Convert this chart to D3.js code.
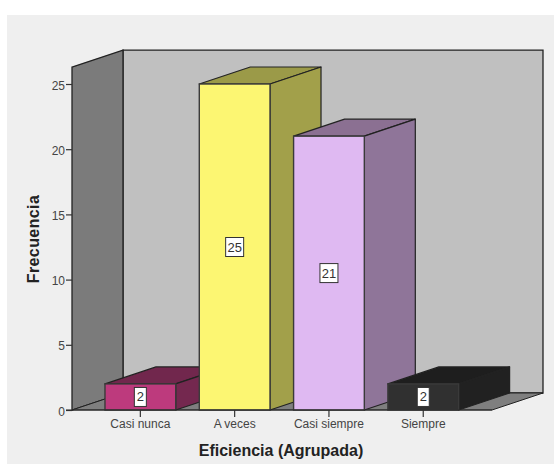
<!DOCTYPE html>
<html>
<head>
<meta charset="utf-8">
<script src="https://cdn.jsdelivr.net/npm/d3@7/dist/d3.min.js"></script>
<style>
html,body{margin:0;padding:0;background:#fff;}
svg{display:block;}
text{font-family:"Liberation Sans",Arial,sans-serif;}
</style>
</head>
<body>
<svg id="chart" width="554" height="464"></svg>
<script>
const categories = ["Casi nunca", "A veces", "Casi siempre", "Siempre"];
const frequencies = [2, 25, 21, 2];
const frontColors = ["#bd3a7d", "#fcf672", "#dfb9f2", "#303030"];
const topColors = ["#71274d", "#9b9a48", "#8b7092", "#1e1e1e"];
const sideColors = ["#74284f", "#a2a04a", "#8f7599", "#212121"];
const yTicks = [0, 5, 10, 15, 20, 25];

const svg = d3.select("#chart");
const depthX = 51, depthY = -17;
const wallTopValue = 26.3;

const y = d3.scaleLinear().domain([0, 25]).range([410, 84]);
const x = d3.scaleBand().domain(categories).range([93.2, 470.4]).paddingInner(0.25).paddingOuter(0.125);

const edge = "#3a3a3a";
const poly = pts => "M" + pts.map(p => p.join(",")).join("L") + "Z";

// Panel behind the whole chart
svg.append("rect").attr("x", 7).attr("y", 15).attr("width", 547).attr("height", 449).attr("fill", "#efefef");

// Box: back wall, left wall and floor
const boxLeft = 72, boxRight = 492, base = y(0), boxTop = y(wallTopValue);
svg.append("path").attr("d", poly([[boxLeft + depthX, boxTop + depthY], [boxRight + depthX, boxTop + depthY], [boxRight + depthX, base + depthY], [boxLeft + depthX, base + depthY]]))
  .attr("fill", "#c0c0c0").attr("stroke", "#222").attr("stroke-width", 1.3);
svg.append("path").attr("d", poly([[boxLeft, boxTop], [boxLeft + depthX, boxTop + depthY], [boxLeft + depthX, base + depthY], [boxLeft, base]]))
  .attr("fill", "#7b7b7b").attr("stroke", "#222").attr("stroke-width", 1.3);
svg.append("path").attr("d", poly([[boxLeft, base], [boxLeft + depthX, base + depthY], [boxRight + depthX, base + depthY], [boxRight, base]]))
  .attr("fill", "#7f7f7f").attr("stroke", "#222").attr("stroke-width", 1);

// Extruded bars
const bars = svg.selectAll("g.bar").data(categories.map((c, i) => ({c, v: frequencies[i], i}))).join("g").attr("class", "bar");
bars.append("path")
  .attr("d", d => { const x0 = x(d.c), x1 = x0 + x.bandwidth(), t = y(d.v);
    return poly([[x0, t], [x0 + depthX, t + depthY], [x1 + depthX, t + depthY], [x1, t]]); })
  .attr("fill", d => topColors[d.i]).attr("stroke", "#222").attr("stroke-width", 1.2).attr("stroke-linejoin", "round");
bars.append("path")
  .attr("d", d => { const x1 = x(d.c) + x.bandwidth(), t = y(d.v);
    return poly([[x1, t], [x1 + depthX, t + depthY], [x1 + depthX, base + depthY], [x1, base]]); })
  .attr("fill", d => sideColors[d.i]).attr("stroke", "#222").attr("stroke-width", 1.2).attr("stroke-linejoin", "round");
bars.append("rect")
  .attr("x", d => x(d.c)).attr("y", d => y(d.v))
  .attr("width", x.bandwidth()).attr("height", d => base - y(d.v))
  .attr("fill", d => frontColors[d.i]).attr("stroke", edge).attr("stroke-width", 1.4);

// Value labels in small white boxes at mid height
const labels = bars.append("g").attr("transform", d => `translate(${x(d.c) + x.bandwidth() / 2},${(y(d.v) + base) / 2})`);
labels.append("rect")
  .attr("x", d => d.v >= 10 ? -9 : -6).attr("y", -9.5)
  .attr("width", d => d.v >= 10 ? 18 : 12).attr("height", 19)
  .attr("fill", "#fff").attr("stroke", "#333").attr("stroke-width", 1);
labels.append("text").text(d => d.v)
  .attr("text-anchor", "middle").attr("y", 4.5).attr("font-size", 13).attr("fill", "#333");

// Frequency axis
const yAxis = d3.axisLeft(y).tickValues(yTicks).tickSize(6).tickPadding(1);
const yG = svg.append("g").attr("transform", `translate(${boxLeft},0)`).call(yAxis);
yG.select(".domain").remove();
yG.selectAll("line").attr("stroke", "#333").attr("stroke-width", 1.2);
yG.selectAll("text").attr("font-size", 12).attr("fill", "#444").attr("font-family", '"Liberation Sans",Arial,sans-serif').attr("dy", "0.42em");

// Category axis
const xAxis = d3.axisBottom(x).tickSize(7).tickPadding(2);
const xG = svg.append("g").attr("transform", `translate(0,${base})`).call(xAxis);
xG.select(".domain").remove();
xG.selectAll("line").attr("stroke", "#333").attr("stroke-width", 1.2);
xG.selectAll("text").attr("font-size", 12).attr("fill", "#444").attr("font-family", '"Liberation Sans",Arial,sans-serif');
svg.append("line").attr("x1", boxLeft - 6).attr("x2", boxRight).attr("y1", base).attr("y2", base).attr("stroke", "#2a2a2a").attr("stroke-width", 1.2);

// Axis titles
svg.append("text").attr("x", 281).attr("y", 456).attr("text-anchor", "middle")
  .attr("font-size", 16).attr("font-weight", "bold").attr("fill", "#222").text("Eficiencia (Agrupada)");
svg.append("text").attr("transform", "translate(38.5,239) rotate(-90)").attr("text-anchor", "middle")
  .attr("font-size", 16).attr("font-weight", "bold").attr("fill", "#222").attr("letter-spacing", 0.4).text("Frecuencia");
</script>
</body>
</html>
